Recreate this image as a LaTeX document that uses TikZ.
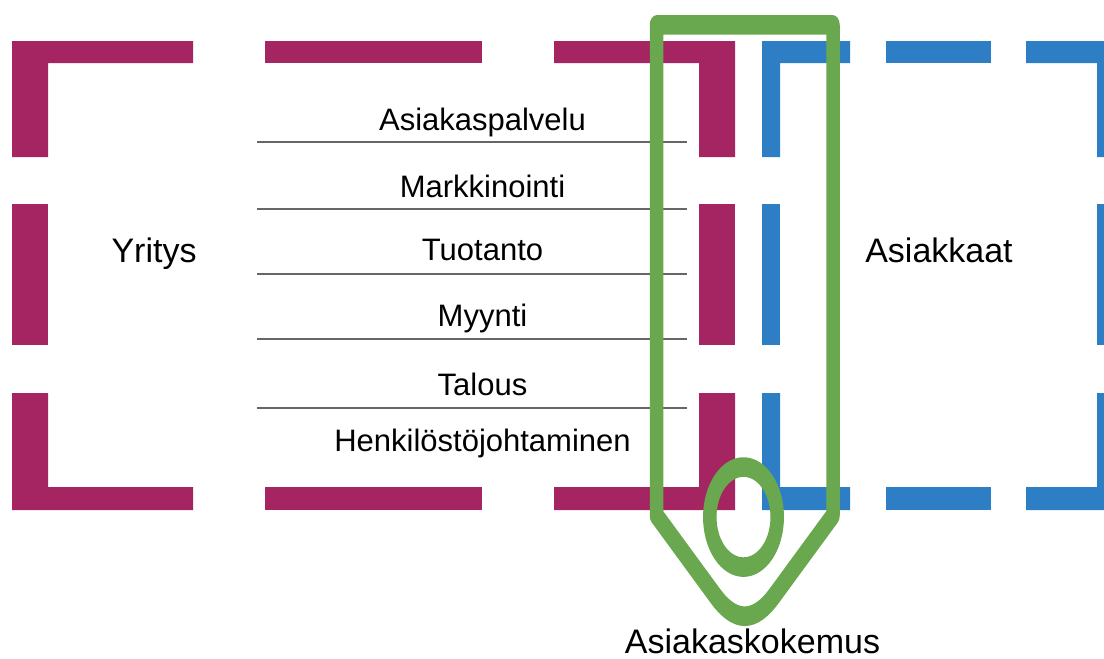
\documentclass[tikz,border=0pt]{standalone}
\usepackage{fontspec}
\setmainfont{Liberation Sans}
\definecolor{mag}{RGB}{165,36,98}
\definecolor{blu}{RGB}{46,126,197}
\definecolor{grn}{RGB}{106,168,79}
\definecolor{lin}{RGB}{102,102,102}
\tikzset{
  magbar/.style={fill=mag},
  blubar/.style={fill=blu},
  grnstroke/.style={draw=grn, line width=13.5pt, line join=round},
  divider/.style={draw=lin, line width=2pt},
  dept/.style={anchor=base, inner sep=0pt, font=\fontsize{31}{37}\selectfont},
  biglabel/.style={anchor=base, inner sep=0pt, font=\fontsize{34}{40}\selectfont}
}
\begin{document}
\begin{tikzpicture}[x=1pt,y=-1pt]
\useasboundingbox (0,0) rectangle (1104,659);
\fill[white] (0,0) rectangle (1104,659);
% magenta dashed frame
\fill[magbar] (12,41) -- (193,41) -- (193,63) -- (48,63) -- (48,157) -- (12,157) -- cycle;
\fill[magbar] (265,41) rectangle (482,63);
\fill[magbar] (554,41) -- (735,41) -- (735,157) -- (699,157) -- (699,63) -- (554,63) -- cycle;
\fill[magbar] (12,204) rectangle (48,345);
\fill[magbar] (699,204) rectangle (735,345);
\fill[magbar] (12,393) -- (48,393) -- (48,487) -- (193,487) -- (193,510) -- (12,510) -- cycle;
\fill[magbar] (265,487) rectangle (482,510);
\fill[magbar] (699,393) -- (735,393) -- (735,510) -- (554,510) -- (554,487) -- (699,487) -- cycle;
% blue dashed frame
\fill[blubar] (762,41) -- (850,41) -- (850,63) -- (780,63) -- (780,157) -- (762,157) -- cycle;
\fill[blubar] (886,41) rectangle (991,63);
\fill[blubar] (1026,41) -- (1110,41) -- (1110,157) -- (1097,157) -- (1097,63) -- (1026,63) -- cycle;
\fill[blubar] (762,204) rectangle (780,345);
\fill[blubar] (1097,204) rectangle (1110,345);
\fill[blubar] (762,393) -- (780,393) -- (780,487) -- (850,487) -- (850,510) -- (762,510) -- cycle;
\fill[blubar] (886,487) rectangle (991,510);
\fill[blubar] (1097,393) -- (1110,393) -- (1110,510) -- (1026,510) -- (1026,487) -- (1097,487) -- cycle;
% divider lines
\foreach \yy [count=\i] in {141.7,208.7,274.3,338.7,407.7}{
  \coordinate (l\i) at (257,\yy);
  \coordinate (r\i) at (687,\yy);
  \draw[divider] (l\i) -- (r\i);
}
% department labels
\node[dept] (asp) at (482.5,130) {Asiakaspalvelu};
\node[dept] (mar) at (482.5,197.3) {Markkinointi};
\node[dept] (tuo) at (482.5,260) {Tuotanto};
\node[dept] (myy) at (482.5,326.7) {Myynti};
\node[dept] (tal) at (482.5,395) {Talous};
\node[dept] (hen) at (482.5,451.7) {Henkilöstöjohtaminen};
% side labels
\node[biglabel] (yri) at (154,262.3) {Yritys};
\node[biglabel] (asi) at (939,262.3) {Asiakkaat};
% green pencil shape and circle (drawn in a vertically stretched canvas)
\begin{scope}[transform canvas={yscale=1.45}]
  \draw[grnstroke] (656.5,17.2) -- (833,17.2) -- (833,355.5) -- (773.9,411.2)
    .. controls (765.8,418.8) and (755.85,425) .. (744.75,425)
    .. controls (733.65,425) and (723.7,418.8) .. (715.6,411.2) -- (656.5,355.5) -- cycle;
  \draw[grnstroke] (743.5,356.6) ellipse [x radius=33.7, y radius=34.5];
\end{scope}
\node[biglabel] (kok) at (752.5,653) {Asiakaskokemus};
\end{tikzpicture}
\end{document}
